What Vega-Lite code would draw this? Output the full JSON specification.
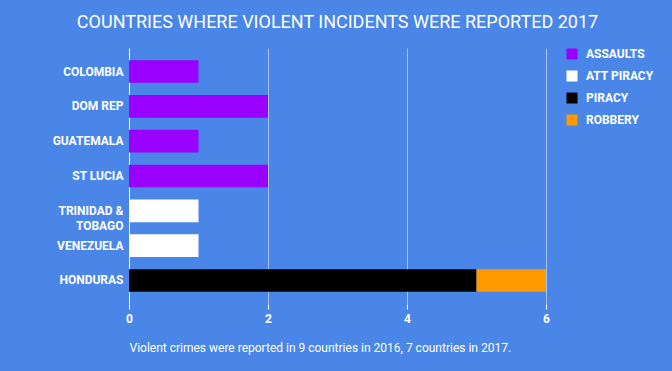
{
  "$schema": "https://vega.github.io/schema/vega-lite/v6.json",
  "width": 417,
  "height": 256,
  "autosize": {"type": "none"},
  "padding": {"left": 129, "top": 48, "right": 126, "bottom": 67},
  "background": "#4a86e8",
  "config": {
    "view": {"stroke": null},
    "font": "Roboto"
  },
  "title": {
    "text": "COUNTRIES WHERE VIOLENT INCIDENTS WERE REPORTED 2017",
    "color": "#ffffff",
    "font": "Roboto",
    "fontSize": 18,
    "fontWeight": "normal",
    "anchor": "middle",
    "offset": 16
  },
  "data": {
    "values": [
      {"country": "COLOMBIA", "type": "ASSAULTS", "count": 1},
      {"country": "DOM REP", "type": "ASSAULTS", "count": 2},
      {"country": "GUATEMALA", "type": "ASSAULTS", "count": 1},
      {"country": "ST LUCIA", "type": "ASSAULTS", "count": 2},
      {"country": "TRINIDAD & TOBAGO", "type": "ATT PIRACY", "count": 1},
      {"country": "VENEZUELA", "type": "ATT PIRACY", "count": 1},
      {"country": "HONDURAS", "type": "PIRACY", "count": 5},
      {"country": "HONDURAS", "type": "ROBBERY", "count": 1}
    ]
  },
  "mark": {"type": "bar"},
  "encoding": {
    "y": {
      "field": "country",
      "type": "nominal",
      "sort": ["COLOMBIA", "DOM REP", "GUATEMALA", "ST LUCIA", "TRINIDAD & TOBAGO", "VENEZUELA", "HONDURAS"],
      "scale": {"paddingInner": 0.35, "paddingOuter": 0.35},
      "axis": {
        "title": null,
        "labelColor": "#ffffff",
        "labelFont": "Roboto",
        "labelFontSize": 12,
        "labelFontWeight": "bold",
        "labelPadding": 6,
        "ticks": false,
        "domain": true,
        "domainColor": "#ffffff",
        "labelLimit": 120,
        "labelExpr": "datum.value == 'TRINIDAD & TOBAGO' ? ['TRINIDAD &', 'TOBAGO'] : datum.value",
        "labelLineHeight": 15
      }
    },
    "x": {
      "field": "count",
      "type": "quantitative",
      "stack": "zero",
      "scale": {"domain": [0, 6], "nice": false},
      "axis": {
        "values": [0, 2, 4, 6],
        "title": "Violent crimes were reported in 9 countries in 2016, 7 countries in 2017.",
        "titleColor": "#ffffff",
        "titleFont": "Roboto",
        "titleFontSize": 12,
        "titleFontWeight": "normal",
        "titleAnchor": "start",
        "titlePadding": 18,
        "labelColor": "#ffffff",
        "labelFont": "Roboto",
        "labelFontSize": 12,
        "labelFontWeight": "bold",
        "labelPadding": 4,
        "labelFlush": false,
        "domain": false,
        "ticks": true,
        "tickColor": "#ffffff",
        "tickSize": 5,
        "grid": true,
        "gridColor": "#ffffff",
        "gridOpacity": 0.5
      }
    },
    "color": {
      "field": "type",
      "type": "nominal",
      "scale": {
        "domain": ["ASSAULTS", "ATT PIRACY", "PIRACY", "ROBBERY"],
        "range": ["#9900ff", "#ffffff", "#000000", "#ff9900"]
      },
      "legend": {
        "title": null,
        "orient": "right",
        "offset": 20,
        "symbolType": "square",
        "symbolSize": 121,
        "symbolStrokeWidth": 0,
        "symbolOpacity": 1,
        "labelColor": "#ffffff",
        "labelFont": "Roboto",
        "labelFontSize": 12,
        "labelFontWeight": "bold",
        "rowPadding": 10,
        "labelOffset": 8
      }
    }
  }
}
